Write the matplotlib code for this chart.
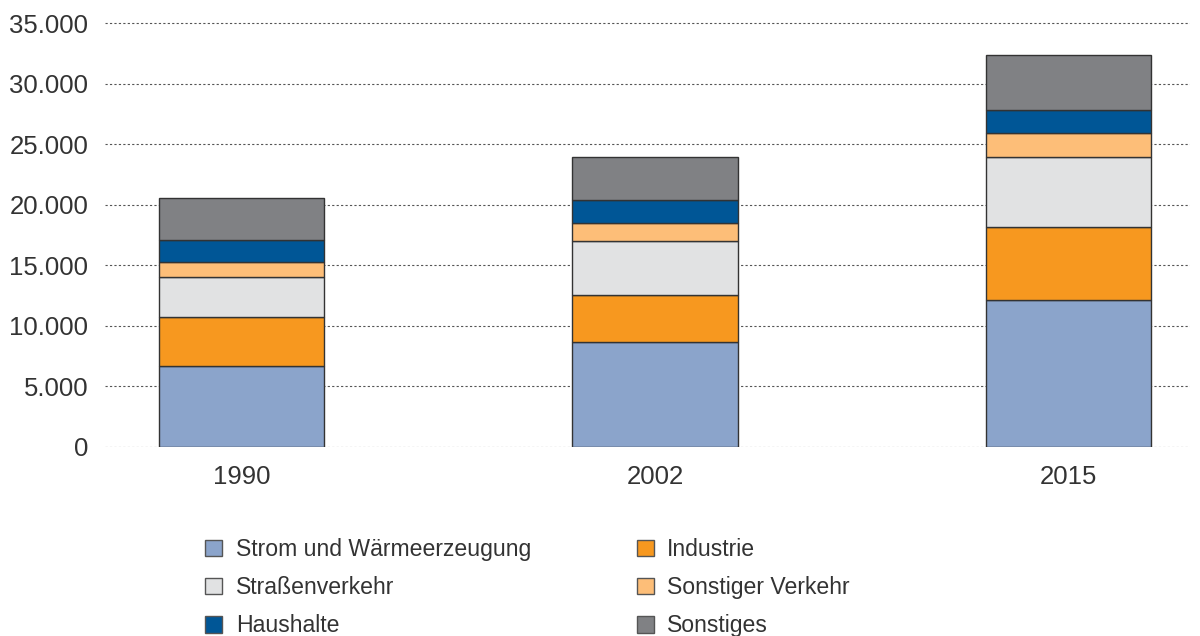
import matplotlib
matplotlib.use("Agg")
import matplotlib.pyplot as plt
from matplotlib.patches import Patch
from matplotlib.ticker import FuncFormatter

years = ["1990", "2002", "2015"]
series_names = ["Strom und Wärmeerzeugung", "Industrie", "Straßenverkehr",
                "Sonstiger Verkehr", "Haushalte", "Sonstiges"]
strom = [6700, 8700, 12100]
industrie = [4000, 3860, 6060]
strassen = [3300, 4440, 5810]
sonst_verkehr = [1300, 1510, 1980]
haushalte = [1800, 1840, 1840]
sonstiges = [3450, 3590, 4550]
colors = ["#8BA4CB", "#F7981F", "#E1E2E3", "#FDBE78", "#005696", "#808184"]

series = [strom, industrie, strassen, sonst_verkehr, haushalte, sonstiges]

plt.rcParams['font.family'] = ['Liberation Sans', 'DejaVu Sans']
fig = plt.figure(figsize=(12, 6.36), dpi=100)
ax = fig.add_axes([0.0875, 0.2972, 0.9045, 0.6723])

x = list(range(len(years)))
bottom = [0] * len(years)
for vals, col in zip(series, colors):
    ax.bar(x, vals, bottom=bottom, width=0.4, color=col, edgecolor="#333333",
           linewidth=1.0, zorder=3)
    bottom = [b + v for b, v in zip(bottom, vals)]

ax.set_xlim(-0.33, 2.295)
ax.set_ylim(0, 35300)
ax.set_yticks(range(0, 35001, 5000))
ax.yaxis.set_major_formatter(FuncFormatter(lambda v, p: f"{int(v):,}".replace(",", ".")))
ax.set_xticks(x)
ax.set_xticklabels(years)
ax.grid(axis="y", linestyle=(0, (2, 2)), color="#555555", linewidth=0.8, zorder=0)
for s in ax.spines.values():
    s.set_visible(False)
ax.tick_params(axis="both", length=0, labelsize=18.5, colors="#333333")
ax.tick_params(axis="y", pad=12)
ax.tick_params(axis="x", pad=13)

order = [0, 2, 4, 1, 3, 5]
handles = [Patch(facecolor=colors[i], edgecolor="#555555", linewidth=1.0) for i in order]
labels = [series_names[i] for i in order]
fig.legend(handles, labels, ncol=2, loc="upper left", bbox_to_anchor=(0.171, 0.154),
           frameon=False, fontsize=16.6, handlelength=0.72, handleheight=0.72,
           handletextpad=0.6, labelspacing=0.66, columnspacing=4.6,
           labelcolor="#333333", borderaxespad=0, borderpad=0)

fig.savefig("out.png", dpi=100)
